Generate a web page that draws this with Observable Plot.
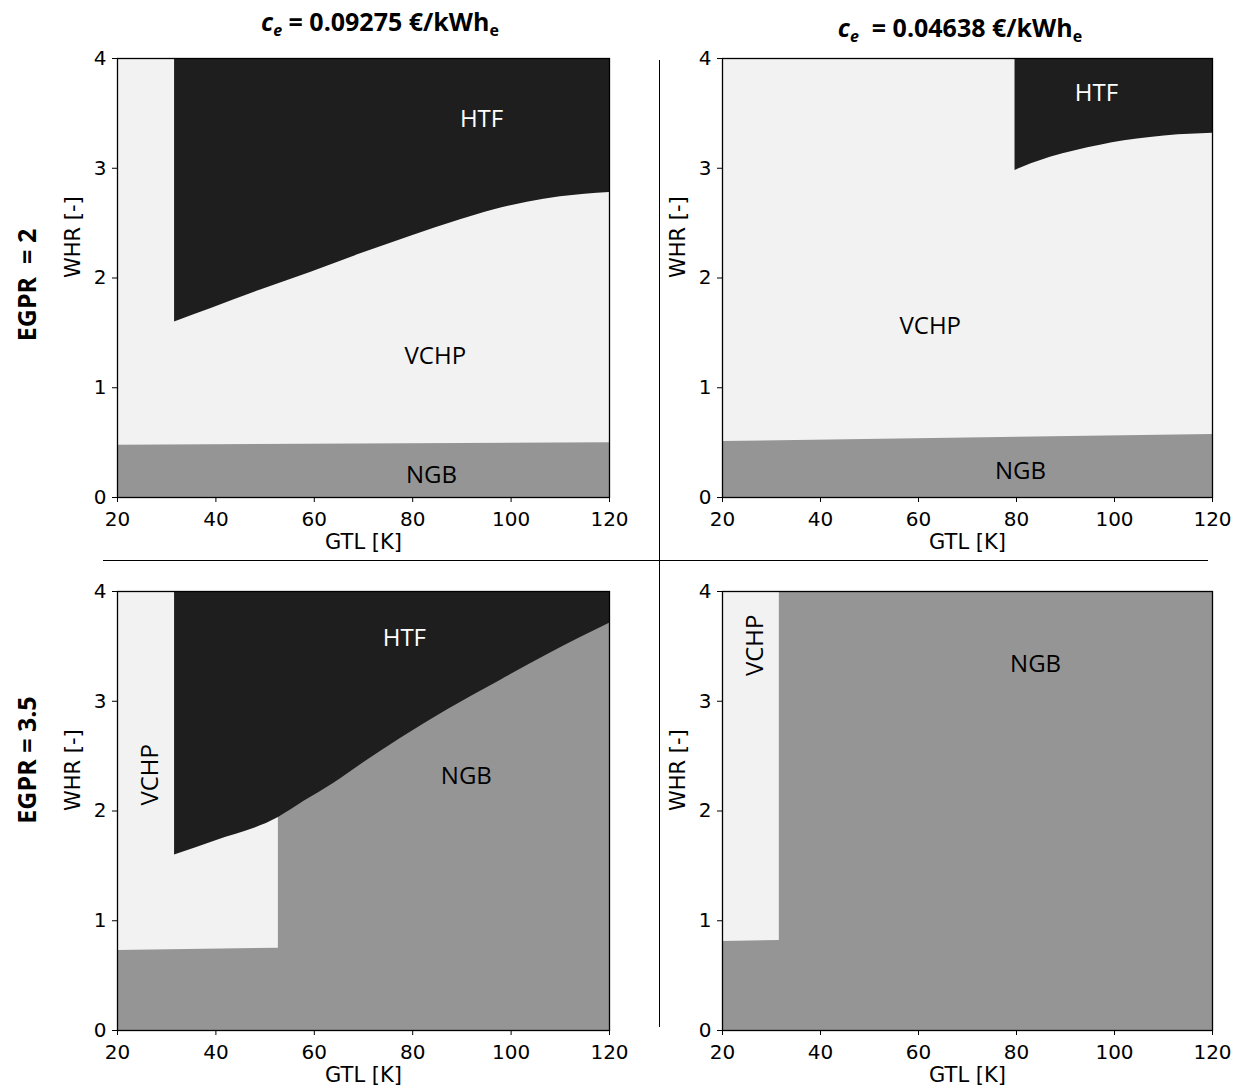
<!DOCTYPE html>
<html>
<head>
<meta charset="utf-8">
<script src="https://cdn.jsdelivr.net/npm/d3@7"></script>
<script src="https://cdn.jsdelivr.net/npm/@observablehq/plot@0.6"></script>
<style>
  html, body { margin: 0; padding: 0; background: #fff; }
  #root { position: relative; width: 1242px; height: 1092px; overflow: hidden; font-family: "DejaVu Sans", sans-serif; }
  .panel { position: absolute; }
  .coltitle { position: absolute; font-family: "Open Sans", sans-serif; font-weight: bold; font-size: 25px; white-space: nowrap; transform: translate(-50%, -50%); }
  .coltitle sub { font-size: 16px; vertical-align: -5px; }
  .rowtitle { position: absolute; font-family: "Open Sans", sans-serif; font-weight: bold; font-size: 25px; white-space: nowrap; transform: translate(-50%, -50%) rotate(-90deg); }
  .sep { position: absolute; background: #000; }
</style>
</head>
<body>
<div id="root"></div>
<script>
// ---------- data ----------
const gtlTicks = [20, 40, 60, 80, 100, 120];
const whrTicks = [0, 1, 2, 3, 4];
const gtlDomain = [20, 120];
const whrDomain = [0, 4];
const ceValues = ["0.09275", "0.04638"];
const egprValues = ["2", "3.5"];
const xLabel = "GTL [K]";
const yLabel = "WHR [-]";

const colors = { HTF: "#1e1e1e", VCHP: "#f2f2f2", NGB: "#959595" };

// Panel A: EGPR = 2, ce = 0.09275
const aNgbX = [20, 120];
const aNgbTop = [0.475, 0.50];
const aHtfX = [31.6, 38.9, 49.1, 59.2, 69.4, 79.6, 89.7, 96.4, 103.3, 110, 120];
const aHtfY = [1.60, 1.72, 1.89, 2.05, 2.22, 2.38, 2.53, 2.62, 2.69, 2.74, 2.78];
const aLabels = ["HTF", "VCHP", "NGB"];
const aLabelX = [94, 84.6, 83.8];
const aLabelY = [3.45, 1.29, 0.20];

// Panel B: EGPR = 2, ce = 0.04638
const bNgbX = [20, 120];
const bNgbTop = [0.51, 0.575];
const bHtfX = [79.7, 83, 86.9, 92, 97.1, 102, 107.3, 113, 120];
const bHtfY = [2.98, 3.04, 3.10, 3.16, 3.21, 3.25, 3.28, 3.305, 3.32];
const bLabels = ["HTF", "VCHP", "NGB"];
const bLabelX = [96.3, 62.4, 80.8];
const bLabelY = [3.68, 1.56, 0.24];

// Panel C: EGPR = 3.5, ce = 0.09275
const cVchpX = [20, 52.7];
const cVchpBottom = [0.73, 0.75];
const cHtfX = [31.6, 40, 52.7, 58, 63.9, 70, 77.5, 87, 97.8, 108, 120];
const cHtfY = [1.60, 1.73, 1.94, 2.09, 2.25, 2.44, 2.66, 2.92, 3.19, 3.44, 3.71];
const cLabels = ["HTF", "VCHP", "NGB"];
const cLabelX = [78.3, 26.7, 90.9];
const cLabelY = [3.57, 2.33, 2.32];

// Panel D: EGPR = 3.5, ce = 0.04638
const dVchpX = [20, 31.6];
const dVchpBottom = [0.81, 0.82];
const dLabels = ["VCHP", "NGB"];
const dLabelX = [26.7, 83.9];
const dLabelY = [3.51, 3.34];

// ---------- helpers ----------
function rows(xs, lo, hi) {
  return xs.map((x, i) => ({
    x,
    lo: Array.isArray(lo) ? lo[i] : lo,
    hi: Array.isArray(hi) ? hi[i] : hi
  }));
}
function area(data, name, curve = "linear") {
  return Plot.areaY(data, { x: "x", y1: "lo", y2: "hi", fill: colors[name], curve });
}
const labelFont = "'Open Sans', sans-serif";
function labelMarks(names, xs, ys, rotatedNames) {
  const data = names.map((t, i) => ({ t, x: xs[i], y: ys[i], rot: rotatedNames.includes(t) }));
  return [
    Plot.text(data.filter(d => !d.rot), { x: "x", y: "y", text: "t", fontSize: 24, fontFamily: labelFont,
      fill: d => d.t === "HTF" ? "#ffffff" : "#000000" }),
    Plot.text(data.filter(d => d.rot), { x: "x", y: "y", text: "t", fontSize: 24, fontFamily: labelFont,
      rotate: -90, fill: "#000000" })
  ];
}

const axisFont = "'DejaVu Sans', sans-serif";
const ML = 60, MR = 15, MT = 10, MB = 62;
function makePanel(regionMarks, labels, frameW) {
  return Plot.plot({
    width: ML + frameW + MR,
    height: MT + 439 + MB,
    marginLeft: ML, marginRight: MR, marginTop: MT, marginBottom: MB,
    style: { fontFamily: axisFont, background: "transparent", overflow: "visible" },
    x: { domain: gtlDomain, label: null },
    y: { domain: whrDomain, label: null },
    marks: [
      ...regionMarks,
      ...labels,
      Plot.frame({ stroke: "#000", strokeWidth: 1.3 }),
      Plot.axisX({ ticks: gtlTicks, tickSize: 5, tickPadding: 9, fontSize: 20, fontFamily: axisFont, label: null, tickFormat: d => String(d), stroke: "#000", fill: "#000" }),
      Plot.axisY({ ticks: whrTicks, tickSize: 5, tickPadding: 6, fontSize: 20, fontFamily: axisFont, label: null, tickFormat: d => String(d), stroke: "#000", fill: "#000" }),
      Plot.text([xLabel], { text: d => d, frameAnchor: "bottom", dy: 51, fontSize: 21, fontFamily: axisFont, fill: "#000" }),
      Plot.text([yLabel], { text: d => d, frameAnchor: "left", dx: -44, rotate: -90, fontSize: 21, fontFamily: axisFont, fill: "#000" })
    ]
  });
}

// ---------- panels ----------
const panelA = makePanel([
  area(rows(aNgbX, 0, 4), "VCHP"),
  area(rows(aNgbX, 0, aNgbTop), "NGB"),
  area(rows(aHtfX, aHtfY, 4), "HTF", "monotone-x")
], labelMarks(aLabels, aLabelX, aLabelY, []), 492);

const panelB = makePanel([
  area(rows(bNgbX, 0, 4), "VCHP"),
  area(rows(bNgbX, 0, bNgbTop), "NGB"),
  area(rows(bHtfX, bHtfY, 4), "HTF", "monotone-x")
], labelMarks(bLabels, bLabelX, bLabelY, []), 490);

const panelC = makePanel([
  area(rows(gtlDomain, 0, 4), "NGB"),
  area(rows(cVchpX, cVchpBottom, 4), "VCHP"),
  area(rows(cHtfX, cHtfY, 4), "HTF", "monotone-x")
], labelMarks(cLabels, cLabelX, cLabelY, ["VCHP"]), 492);

const panelD = makePanel([
  area(rows(gtlDomain, 0, 4), "NGB"),
  area(rows(dVchpX, dVchpBottom, 4), "VCHP")
], labelMarks(dLabels, dLabelX, dLabelY, ["VCHP"]), 490);

// ---------- layout ----------
const root = document.getElementById("root");
function place(node, frameLeft, frameTop) {
  const div = document.createElement("div");
  div.className = "panel";
  div.style.left = (frameLeft - ML) + "px";
  div.style.top = (frameTop - MT) + "px";
  div.appendChild(node);
  root.appendChild(div);
}
place(panelA, 117, 58);
place(panelB, 722, 58);
place(panelC, 117, 591);
place(panelD, 722, 591);

function addTitle(cls, html, x, y) {
  const d = document.createElement("div");
  d.className = cls;
  d.innerHTML = html;
  d.style.left = x + "px";
  d.style.top = y + "px";
  root.appendChild(d);
}
addTitle("coltitle", `<i>c<sub>e</sub></i> = ${ceValues[0]} €/kWh<sub>e</sub>`, 380, 22);
addTitle("coltitle", `<i>c<sub>e</sub></i> &nbsp;= ${ceValues[1]} €/kWh<sub>e</sub>`, 960, 28);
addTitle("rowtitle", `EGPR &nbsp;= ${egprValues[0]}`, 26, 285);
addTitle("rowtitle", `EGPR = ${egprValues[1]}`, 26, 760);

function addSep(l, t, w, h) {
  const d = document.createElement("div");
  d.className = "sep";
  Object.assign(d.style, { left: l + "px", top: t + "px", width: w + "px", height: h + "px" });
  root.appendChild(d);
}
addSep(103, 560, 1105, 1);
addSep(659, 60, 1, 967);
</script>
</body>
</html>
